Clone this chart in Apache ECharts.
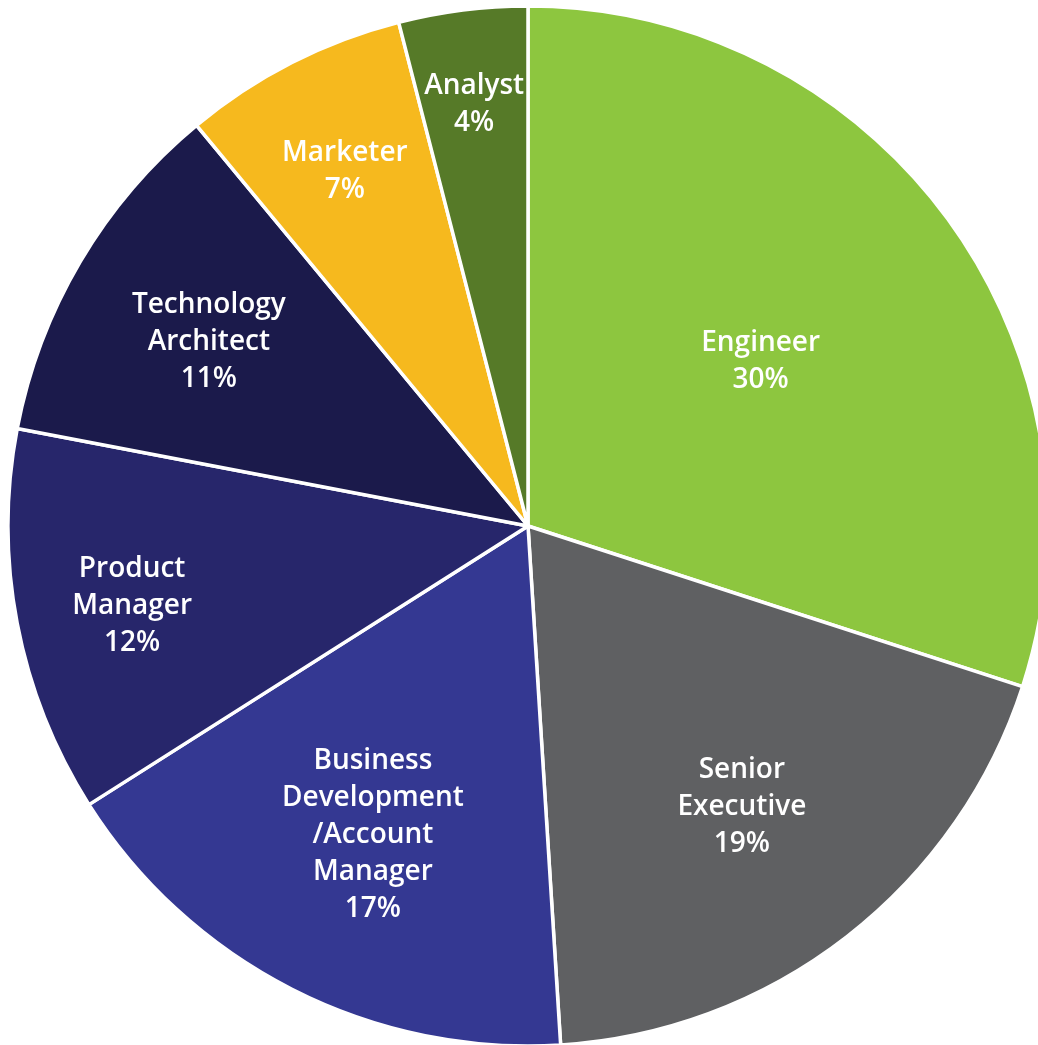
<!DOCTYPE html>
<html>
<head>
<meta charset="utf-8">
<style>
  html, body { margin: 0; padding: 0; background: #ffffff; }
  #chart { width: 1038px; height: 1045px; }
</style>
<script src="https://cdn.jsdelivr.net/npm/echarts@6/dist/echarts.min.js"></script>
</head>
<body>
<div id="chart"></div>
<script>
// Data
var categories = [
  'Engineer',
  'Senior\nExecutive',
  'Business\nDevelopment\n/Account\nManager',
  'Product\nManager',
  'Technology\nArchitect',
  'Marketer',
  'Analyst'
];
var values = [30, 19, 17, 12, 11, 7, 4];

// Styles
var colors = ['#8DC63F', '#5F6062', '#343892', '#27266B', '#1B1A4B', '#F6B91E', '#567A28'];
var labelRadiusRatio = [0.553, 0.671, 0.657, 0.775, 0.713, 0.776, 0.826];

var CX = 528, CY = 526, R = 520;

var chart = echarts.init(document.getElementById('chart'));
chart.setOption({
  animation: false,
  series: [{
    type: 'pie',
    center: [CX, CY],
    radius: [0, R],
    startAngle: 90,
    clockwise: true,
    avoidLabelOverlap: false,
    data: categories.map(function (c, i) {
      return { name: c, value: values[i], itemStyle: { color: colors[i] } };
    }),
    itemStyle: { borderColor: '#ffffff', borderWidth: 3.5 },
    label: {
      show: true,
      position: 'inside',
      formatter: '{b}\n{c}%',
      color: '#ffffff',
      fontFamily: 'Open Sans',
      fontWeight: 600,
      fontSize: 28,
      lineHeight: 37,
      align: 'center'
    },
    labelLine: { show: false },
    emphasis: { disabled: true },
    labelLayout: function (p) {
      var lr = p.labelRect;
      var lx = lr.x + lr.width / 2, ly = lr.y + lr.height / 2;
      var dx = lx - CX, dy = ly - CY;
      var d = Math.sqrt(dx * dx + dy * dy) || 1;
      var k = labelRadiusRatio[p.dataIndex] * R;
      return {
        x: CX + dx / d * k,
        y: CY + dy / d * k + 5,
        align: 'center',
        verticalAlign: 'middle'
      };
    }
  }]
});
</script>
</body>
</html>
